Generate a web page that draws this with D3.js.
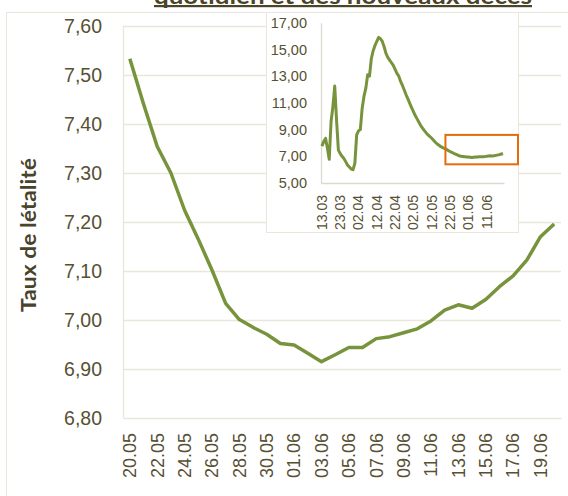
<!DOCTYPE html>
<html>
<head>
<meta charset="utf-8">
<script src="https://cdn.jsdelivr.net/npm/d3@7"></script>
<style>
  body { margin: 0; background: #fff; }
  svg { display: block; font-family: Lato, "Open Sans", sans-serif; }
</style>
</head>
<body>
<svg id="chart" width="568" height="496"></svg>
<script>
// taux de létalité, 20.05 -> 20.06 (zoom)
var mainValues = [7.533, 7.441, 7.354, 7.300, 7.224, 7.165, 7.102, 7.034, 7.001, 6.985,
                  6.971, 6.952, 6.949, 6.932, 6.915, 6.929, 6.944, 6.944, 6.962, 6.966,
                  6.974, 6.982, 6.998, 7.020, 7.031, 7.024, 7.042, 7.068, 7.090, 7.122,
                  7.170, 7.196];
// 13.03 -> 19.05, the rest of the inset is the same series as above
var earlyValues = [7.76, 8.10, 8.34, 7.60, 6.77, 9.60, 10.70, 12.26, 9.70, 7.46,
                   7.20, 7.00, 6.84, 6.60, 6.34, 6.20, 6.05, 6.00, 6.47, 8.60,
                   8.90, 9.00, 10.60, 11.50, 12.10, 13.10, 13.00, 14.30, 14.90, 15.30,
                   15.60, 15.90, 15.80, 15.60, 15.20, 14.70, 14.40, 14.20, 14.00, 13.80,
                   13.50, 13.20, 13.00, 12.60, 12.30, 11.96, 11.60, 11.30, 10.96, 10.65,
                   10.35, 10.05, 9.80, 9.55, 9.30, 9.10, 8.92, 8.75, 8.60, 8.48,
                   8.35, 8.20, 8.05, 7.92, 7.82, 7.72, 7.65, 7.58];
var mainTicks = ["20.05","22.05","24.05","26.05","28.05","30.05","01.06","03.06",
                 "05.06","07.06","09.06","11.06","13.06","15.06","17.06","19.06"];
var insetTicks = ["13.03","23.03","02.04","12.04","22.04","02.05","12.05","22.05","01.06","11.06"];
var mainYTicks = [6.8, 6.9, 7.0, 7.1, 7.2, 7.3, 7.4, 7.5, 7.6];
var insetYTicks = [5, 7, 9, 11, 13, 15, 17];
var titleText = "quotidien et des nouveaux décès";
var yTitle = "Taux de létalité";

var fmtDay = d3.timeFormat("%d.%m");
var allDays = d3.timeDay.range(new Date(2020, 2, 13), new Date(2020, 5, 21)).map(fmtDay);
var insetValues = earlyValues.concat(mainValues);
var mainDays = allDays.slice(earlyValues.length);

var lineColor = "#77933c";
var gridColor = "#e9e6da";
var textColor = "#575033";
var fmt = function(d) { return d.toFixed(2).replace(".", ","); };

var svg = d3.select("#chart");

// title (cut off at the top, as in the source image)
svg.append("text")
    .attr("x", 154).attr("y", 4)
    .attr("textLength", 378).attr("lengthAdjust", "spacingAndGlyphs")
    .style("font-size", "22px").style("font-weight", "bold")
    .attr("fill", "#4a4428")
    .text(titleText);
svg.append("rect").attr("x", 154).attr("y", 5).attr("width", 378).attr("height", 2.2)
    .attr("fill", "#4a4428");

// chart frame
svg.append("rect").attr("x", 6.5).attr("y", 12.5).attr("width", 600).attr("height", 600)
    .attr("fill", "none").attr("stroke", gridColor);

// main chart
var x = d3.scaleBand().domain(mainDays).range([123, 561]);
var y = d3.scaleLinear().domain([6.8, 7.6]).range([418, 26]);

svg.append("g").selectAll("line").data(mainYTicks.slice(1)).join("line")
    .attr("x1", 123).attr("x2", 561)
    .attr("y1", d => Math.round(y(d)) + 0.5).attr("y2", d => Math.round(y(d)) + 0.5)
    .attr("stroke", gridColor).attr("stroke-width", 1.3);

var yAxis = svg.append("g").attr("transform", "translate(123,0)")
    .call(d3.axisLeft(y).tickValues(mainYTicks).tickFormat(fmt).tickSize(0).tickPadding(21));
yAxis.select(".domain").attr("stroke", gridColor).attr("stroke-width", 1.3);
yAxis.selectAll("text").attr("fill", textColor).style("font-size", "19.5px");

var xAxis = svg.append("g").attr("transform", "translate(0,418)")
    .call(d3.axisBottom(x).tickValues(mainTicks).tickSize(0));
xAxis.select(".domain").attr("stroke", gridColor).attr("stroke-width", 1.3);
xAxis.selectAll("text")
    .attr("transform", "rotate(-90)")
    .attr("x", -15).attr("y", 0).attr("dy", "0.35em")
    .attr("text-anchor", "end")
    .attr("fill", textColor).style("font-size", "18px");

svg.append("text")
    .attr("transform", "translate(36,235) rotate(-90)")
    .attr("text-anchor", "middle")
    .attr("textLength", 154).attr("lengthAdjust", "spacingAndGlyphs")
    .style("font-size", "20px").style("font-weight", "bold")
    .attr("fill", "#48432b")
    .text(yTitle);

svg.append("path").datum(mainValues)
    .attr("fill", "none").attr("stroke", lineColor).attr("stroke-width", 3.5)
    .attr("stroke-linejoin", "round")
    .attr("d", d3.line().x((d, i) => x(mainDays[i]) + x.bandwidth() / 2).y(d => y(d)));

// inset chart
svg.append("rect").attr("x", 266.5).attr("y", 12.5).attr("width", 252).attr("height", 220)
    .attr("fill", "#fff").attr("stroke", gridColor);

var xi = d3.scaleBand().domain(allDays).range([321, 504]);
var yi = d3.scaleLinear().domain([5, 17]).range([183, 22.7]);

var yiAxis = svg.append("g").attr("transform", "translate(321,0)")
    .call(d3.axisLeft(yi).tickValues(insetYTicks).tickFormat(fmt).tickSize(0).tickPadding(14));
yiAxis.select(".domain").attr("stroke", "#dcd9cc").attr("stroke-width", 1.3);
yiAxis.selectAll("text").attr("fill", textColor).style("font-size", "14.5px");

var xiAxis = svg.append("g").attr("transform", "translate(0,183)")
    .call(d3.axisBottom(xi).tickValues(insetTicks).tickSize(0));
xiAxis.select(".domain").attr("stroke", "#dcd9cc").attr("stroke-width", 1.3);
xiAxis.selectAll("text")
    .attr("transform", "rotate(-90)")
    .attr("x", -12).attr("y", 0).attr("dy", "0.35em")
    .attr("text-anchor", "end")
    .attr("fill", textColor).style("font-size", "14px");

svg.append("path").datum(insetValues)
    .attr("fill", "none").attr("stroke", lineColor).attr("stroke-width", 3)
    .attr("stroke-linejoin", "round")
    .attr("d", d3.line().x((d, i) => xi(allDays[i]) + xi.bandwidth() / 2).y(d => yi(d)));

// orange box around the zoomed period
var bx0 = xi(mainDays[0]);
svg.append("rect")
    .attr("x", bx0).attr("y", yi(8.6))
    .attr("width", 518 - bx0).attr("height", yi(6.4) - yi(8.6))
    .attr("fill", "none").attr("stroke", "#e46c0a").attr("stroke-width", 2);
</script>
</body>
</html>
